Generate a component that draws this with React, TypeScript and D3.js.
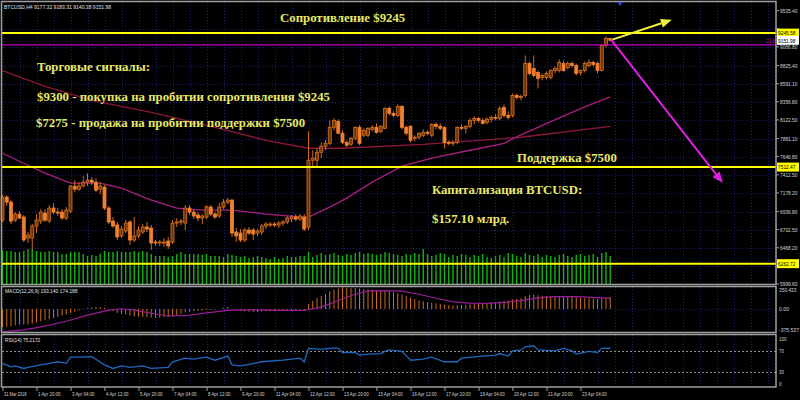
import React from 'react';
import * as d3 from 'd3';

// H4 bars, BTCUSD, first bar 31 Mar 2018 12:00 — [open, high, low, close]
const candles: number[][] = [
  [6827,7150,6801,7124],[7124,7150,7008,7059],[7059,7085,6775,6814],[6827,6930,6801,6904],[6904,6943,6840,6853],
  [6866,6892,6543,6569],[6595,6672,6530,6634],[6595,6775,6440,6750],[6750,6904,6659,6827],[6814,6969,6775,6930],
  [6917,6969,6801,6827],[6814,7021,6788,6982],[6982,7046,6904,6930],[6930,6982,6879,6917],[6930,6969,6827,6853],
  [6853,6995,6827,6956],[6943,7279,6917,7266],[7266,7343,7188,7227],[7227,7317,7201,7266],[7266,7395,7253,7317],
  [7317,7433,7266,7343],[7343,7382,7279,7317],[7317,7369,7188,7214],[7227,7317,7162,7266],[7253,7279,6956,6982],
  [6982,7008,6775,6801],[6814,6866,6724,6750],[6763,6801,6569,6608],[6621,6750,6595,6711],[6685,6827,6659,6788],
  [6801,6827,6505,6569],[6569,6866,6543,6621],[6621,6750,6595,6698],[6672,6775,6646,6737],[6737,6801,6672,6711],
  [6724,6763,6440,6530],[6543,6569,6492,6530],[6530,6569,6492,6543],[6530,6595,6479,6543],[6556,6608,6453,6492],
  [6543,6827,6517,6788],[6788,6853,6737,6801],[6801,6840,6763,6814],[6788,7021,6698,6982],[6982,7021,6892,6930],
  [6930,6956,6840,6879],[6892,6930,6814,6853],[6853,6904,6775,6879],[6866,7021,6840,6995],[6995,7021,6879,6904],
  [6904,6930,6840,6866],[6879,7046,6853,6995],[6995,7098,6969,7059],[7059,7111,7033,7085],[7085,7098,6608,6659],
  [6672,6724,6543,6621],[6659,6711,6543,6569],[6569,6724,6543,6698],[6698,6737,6634,6659],[6698,6724,6569,6646],
  [6659,6711,6621,6685],[6672,6775,6634,6750],[6750,6801,6711,6775],[6763,6801,6737,6775],[6775,6801,6737,6763],
  [6763,6814,6724,6788],[6788,6827,6750,6801],[6801,6879,6775,6853],[6840,6892,6801,6866],[6866,6904,6814,6840],
  [6840,6904,6814,6879],[6866,6904,6685,6711],[6737,7975,6698,7601],[7601,7730,7511,7627],[7601,7756,7524,7704],
  [7704,7833,7627,7782],[7782,7859,7730,7820],[7820,8117,7795,8027],[8027,8143,7988,8117],[8104,8130,7937,7950],
  [7950,7988,7808,7833],[7833,7859,7769,7795],[7808,7898,7782,7885],[7885,8040,7859,8027],[8027,8053,7795,7820],
  [7924,8014,7898,7988],[7924,8027,7898,8014],[8001,8053,7975,8027],[8027,8078,7949,7962],[7975,8053,7950,8040],
  [8014,8285,8001,8272],[8272,8298,8182,8207],[8207,8233,8156,8182],[8182,8324,8156,8298],[8298,8311,8001,8027],
  [8027,8053,7924,7950],[8040,8053,7833,7859],[7885,7924,7846,7898],[7898,7962,7872,7949],[7924,8001,7898,7962],
  [7962,7988,7924,7950],[7924,8078,7898,8065],[8065,8091,8001,8040],[8040,8078,7988,8014],[8027,8040,7756,7833],
  [7833,7859,7795,7820],[7820,7859,7782,7833],[7833,8040,7808,8027],[8027,8065,7988,8014],[8014,8053,7949,8040],
  [8040,8143,8014,8117],[8117,8169,8065,8143],[8143,8156,8091,8117],[8117,8143,8065,8078],[8091,8156,8065,8130],
  [8130,8182,8091,8156],[8156,8195,8117,8143],[8143,8298,8117,8272],[8285,8324,8156,8182],[8182,8233,8130,8156],
  [8182,8465,8156,8440],[8440,8465,8388,8414],[8414,8452,8375,8427],[8440,8956,8414,8852],[8852,8878,8698,8723],
  [8788,8956,8672,8698],[8736,8762,8530,8659],[8672,8723,8633,8698],[8672,8749,8646,8723],[8672,8775,8646,8762],
  [8762,8813,8723,8788],[8762,8904,8736,8865],[8852,8891,8749,8762],[8801,8878,8775,8852],[8852,8878,8801,8827],
  [8827,8852,8698,8723],[8736,8775,8698,8762],[8762,8878,8736,8852],[8827,8904,8801,8865],[8865,8891,8813,8839],
  [8852,8878,8723,8762],[8762,9110,8749,9085],[9085,9200,9059,9175],[9177.32,9183.31,9140.38,9151.98],
];

const volumes = [
  3400,3300,3300,3200,3200,3300,3500,3500,3300,3200,3200,3300,3200,3200,3000,3000,3200,3200,3200,3000,
  2800,2900,2800,3000,3300,3200,3200,3300,3200,3200,3200,3300,3200,3300,3200,3000,2800,2800,2800,2700,
  2800,3000,3200,3000,3000,3000,3000,2900,3000,2800,2800,2800,2700,3000,2900,2800,2700,2800,2600,2700,
  2800,2700,2600,2500,2700,2500,2600,2800,2700,2700,2800,2800,3200,2700,2900,3100,2900,3000,3100,2900,
  2800,3000,2900,3100,3200,3000,3100,3000,2900,3000,3200,3100,3000,2900,2800,3000,2900,3100,3000,3500,
  3000,2800,2900,3100,3000,2700,2900,2800,3000,2900,2700,2900,2800,3000,2700,2600,2800,2900,2700,3100,
  3000,2800,2700,3100,2900,2800,3000,2700,2900,2800,2700,2900,3000,2800,2700,2900,3000,2800,2900,3000,
  2700,3100,3200,2800,
];

// MACD(12,26,9) main (histogram) per bar
const macdMain = [
  -300,-290,-282,-268,-255,-255,-250,-238,-220,-202,-185,-167,-145,-128,-110,-92,-66,-44,-22,-4,
  13,26,31,31,18,-9,-35,-62,-79,-88,-106,-119,-123,-128,-132,-141,-145,-141,-136,-132,
  -114,-97,-79,-57,-44,-35,-31,-26,-18,-13,-9,4,18,31,9,-13,-31,-40,-44,-48,
  -48,-44,-40,-35,-33,-31,-26,-22,-18,-16,-13,-22,80,132,176,211,246,290,315,335,
  350,345,338,342,332,325,322,315,305,295,298,288,275,255,235,210,185,160,140,125,
  112,102,92,84,70,62,57,62,66,70,75,84,88,92,97,106,110,123,132,136,
  154,167,176,211,229,233,224,216,211,209,208,211,207,204,200,189,180,176,174,169,
  158,172,186,193.14,
];

// MACD signal read at bar indices
const signalBars = [0,5,10,15,20,25,28,31,35,39,43,48,53,58,65,71,75,78,82,86,90,94,98,102,106,110,114,118,122,126,130,135,140,143];
const signalVals = [-375,-340,-280,-200,-100,-18,4,-18,-70,-114,-110,-62,-22,-13,-22,-25,30,110,220,295,300,290,240,175,115,95,92,108,135,180,200,200,185,174.188];

// RSI(14) read at bar indices
const rsiBars = [0,2,3,5,6,9,11,13,15,16,18,21,22,24,26,28,30,33,35,39,40,43,45,48,50,53,54,56,58,61,66,70,71,72,75,78,79,80,83,84,86,89,90,91,94,95,96,99,101,104,107,108,113,116,117,119,120,122,123,125,126,130,132,134,135,138,140,141,143];
const rsiVals = [46,39,41,36,38,43,46,49,46,58,58,59,54,43,36,41,38,41,36,38,49,56,54,58,52,60,43,41,44,49,52,56,49,75,73,76,75,67,67,62,64,65,69,72,69,61,52,54,58,49,49,56,60,62,65,60,70,72,78,80,72,70,75,70,64,69,67,75,75.2172];

// Moving averages read at bar indices
const fastMaBars = [0,6,10,16,23,28,35,41,47,54,62,70,72,77,81,87,94,101,110,118,122,131,137,143];
const fastMaVals = [7691,7536,7433,7304,7304,7240,7085,6982,6956,6956,6904,6869,6866,6995,7111,7317,7524,7627,7730,7820,7930,8150,8290,8420];
const slowMaBars = [0,10,21,35,50,62,72,80,99,122,143];
const slowMaVals = [8761,8555,8375,8220,8027,7859,7756,7756,7807,7898,8040];

const priceTicks = [5999.6,6233.9,6468.2,6702.5,6936.8,7178.2,7412.5,7646.8,7881.1,8122.5,8356.8,8591.1,8825.4,9066.8,9300.1,9535.4];
const timeLabels = ['31 Mar 2018','1 Apr 20:00','3 Apr 04:00','4 Apr 12:00','5 Apr 20:00','7 Apr 04:00','8 Apr 12:00','9 Apr 20:00','11 Apr 04:00','12 Apr 12:00','13 Apr 20:00','15 Apr 04:00','16 Apr 12:00','17 Apr 20:00','19 Apr 04:00','20 Apr 12:00','21 Apr 20:00','23 Apr 04:00'];
const timeLabelBars = [0,8,16,24,32,40,48,56,64,72,80,88,96,104,112,120,128,136];

const resistance = 9245.58;
const support = 7512.47;
const lowLevel = 6262.72;
const purpleLevel = 9092;
const lastPrice = 9151.98;

// arrows: [barStart, priceStart, barEnd, priceEnd]
const buyArrow = [143.5, 9161, 157.5, 9419];
const sellArrow = [143.2, 9161, 169.5, 7307];

const YELLOW = '#ffff00';
const TXT = '#e8e868';
const SMALL = 'Liberation Sans, Arial, sans-serif';

function Small(props: { x: number; y: number; t: string; per?: number; fill?: string }) {
  const per = props.per ?? 2.5;
  return (
    <text x={props.x} y={props.y} fontSize={5.6} fontFamily={SMALL} fill={props.fill ?? '#d4d4d4'}
      textLength={props.t.length * per} lengthAdjust="spacingAndGlyphs">{props.t}</text>
  );
}

export default function App() {
  const x = d3.scaleLinear().domain([0, 143]).range([2.5, 610.25]);
  const yP = d3.scaleLinear().domain([5999.6, 9535.4]).range([284, 10.7]);
  const yV = d3.scaleLinear().domain([0, 4000]).range([284, 244]);
  const yM = d3.scaleLinear().domain([-375.537, 350.433]).range([332, 287.5]);
  const yR = d3.scaleLinear().domain([0, 100]).range([387, 335.5]);
  const right = 776;

  const lineP = d3.line<number[]>().x(d => x(d[0])).y(d => yP(d[1]));
  const fastPath = lineP(fastMaBars.map((b, k) => [b, fastMaVals[k]])) || '';
  const slowPath = lineP(slowMaBars.map((b, k) => [b, slowMaVals[k]])) || '';
  const sigPath = d3.line<number[]>().x(d => x(d[0])).y(d => yM(d[1]))(signalBars.map((b, k) => [b, signalVals[k]])) || '';
  const rsiPath = d3.line<number[]>().x(d => x(d[0])).y(d => yR(d[1]))(rsiBars.map((b, k) => [b, rsiVals[k]])) || '';

  const gridBars = d3.range(0, 184, 4);

  const arrow = (a: number[], color: string, key: string) => {
    const x1 = x(a[0]), y1 = yP(a[1]), x2 = x(a[2]), y2 = yP(a[3]);
    const ang = Math.atan2(y2 - y1, x2 - x1);
    const L = 11, Wd = 4.5;
    const bx = x2 - L * Math.cos(ang), by = y2 - L * Math.sin(ang);
    const px = -Math.sin(ang) * Wd, py = Math.cos(ang) * Wd;
    return (
      <g key={key}>
        <line x1={x1} y1={y1} x2={bx} y2={by} stroke={color} strokeWidth={2} />
        <polygon points={`${x2},${y2} ${bx + px},${by + py} ${bx - px},${by - py}`} fill={color} />
      </g>
    );
  };

  const priceBox = (v: number, bg: string, key: string) => (
    <g key={key}>
      <rect x={777} y={yP(v) - 4.5} width={22} height={9} fill={bg} />
      <Small x={778} y={yP(v) + 2.2} t={v.toFixed(2)} fill="#000" />
    </g>
  );

  // tick labels hidden behind the level boxes, as in the terminal
  const boxLevels = [resistance, lastPrice, support, lowLevel];
  const visibleTicks = priceTicks.filter(p => boxLevels.every(b => Math.abs(yP(p) - yP(b)) > 5));

  return (
    <svg width={800} height={400} style={{ position: 'fixed', left: 0, top: 0, background: '#000' }}>
      <rect x={0} y={0} width={800} height={400} fill="#000" />
      {/* grid */}
      <g stroke="#1c1c6a" strokeWidth={1} strokeDasharray="1,2">
        {gridBars.map(b => (
          <line key={'gv' + b} x1={Math.round(x(b)) + 0.5} x2={Math.round(x(b)) + 0.5} y1={2} y2={386} />
        ))}
        {priceTicks.slice(1, -1).map(p => (
          <line key={'gh' + p} x1={2} x2={right} y1={Math.round(yP(p)) + 0.5} y2={Math.round(yP(p)) + 0.5} />
        ))}
        <line x1={2} x2={right} y1={Math.round(yM(0)) + 0.5} y2={Math.round(yM(0)) + 0.5} />
      </g>
      {/* RSI levels */}
      <g stroke="#8a8a8a" strokeWidth={1} strokeDasharray="2,2">
        <line x1={2} x2={right} y1={Math.round(yR(70)) + 0.5} y2={Math.round(yR(70)) + 0.5} />
        <line x1={2} x2={right} y1={Math.round(yR(30)) + 0.5} y2={Math.round(yR(30)) + 0.5} />
      </g>

      {/* volumes */}
      <g stroke="#12b412" strokeWidth={1.4}>
        {volumes.map((v, i) => (
          <line key={'v' + i} x1={x(i)} x2={x(i)} y1={284} y2={yV(v)} />
        ))}
      </g>

      {/* moving averages */}
      <path d={slowPath} fill="none" stroke="#8c1838" strokeWidth={1.3} />
      <path d={fastPath} fill="none" stroke="#a8207e" strokeWidth={1.3} />

      {/* candles */}
      {candles.map((c, i) => {
        const [o, h, l, cl] = c;
        const bull = cl >= o;
        const top = yP(Math.max(o, cl)), bot = yP(Math.min(o, cl));
        return (
          <g key={'c' + i}>
            <line x1={x(i)} x2={x(i)} y1={yP(h)} y2={yP(l)} stroke="#d26a1e" strokeWidth={1} />
            <rect x={x(i) - 1.5} y={top} width={3} height={Math.max(1, bot - top)}
              fill={bull ? '#6e3608' : '#f08030'} stroke={bull ? '#d8701e' : '#f08030'} strokeWidth={0.8} />
          </g>
        );
      })}

      {/* horizontal levels */}
      <line x1={2} x2={right} y1={yP(purpleLevel)} y2={yP(purpleLevel)} stroke="#c000c8" strokeWidth={1.2} />
      <line x1={2} x2={right} y1={yP(resistance)} y2={yP(resistance)} stroke={YELLOW} strokeWidth={2} />
      <line x1={2} x2={right} y1={yP(support)} y2={yP(support)} stroke={YELLOW} strokeWidth={2} />
      <line x1={2} x2={right} y1={yP(lowLevel)} y2={yP(lowLevel)} stroke={YELLOW} strokeWidth={2} />
      <Small x={766} y={yP(purpleLevel) - 2} t="21.6" fill="#c000c8" per={2.3} />

      {/* arrows */}
      {arrow(buyArrow, '#f0f040', 'ab')}
      {arrow(sellArrow, '#e020e0', 'as')}

      {/* MACD */}
      <g stroke="#c8701e" strokeWidth={1}>
        {macdMain.map((v, i) => (
          <line key={'m' + i} x1={x(i)} x2={x(i)} y1={yM(0)} y2={yM(v)} />
        ))}
      </g>
      <path d={sigPath} fill="none" stroke="#9a1c9a" strokeWidth={1.2} />

      {/* RSI */}
      <path d={rsiPath} fill="none" stroke="#2068c0" strokeWidth={1.3} />

      {/* frames */}
      <g fill="none" stroke="#a0a0a0" strokeWidth={1.5}>
        <rect x={1.5} y={1.5} width={right - 1.5} height={283} />
        <rect x={1.5} y={286.5} width={right - 1.5} height={46} />
        <rect x={1.5} y={334.5} width={right - 1.5} height={52.5} />
      </g>
      <polygon points="617,2 623,2 620,6" fill="#3040d0" />

      {/* price axis */}
      {priceTicks.map(p => (
        <line key={'ptk' + p} x1={right} x2={right + 3} y1={yP(p)} y2={yP(p)} stroke="#a0a0a0" />
      ))}
      {visibleTicks.map(p => (
        <Small key={'pt' + p} x={780} y={Math.min(yP(p) + 2.2, 286)} t={p.toFixed(2)} />
      ))}
      <Small x={779} y={292} t="350.433" />
      <Small x={779} y={yM(0) + 2.2} t="0.00" />
      <Small x={779} y={332} t="-375.537" />
      <Small x={779} y={341} t="100" />
      <Small x={779} y={yR(70) + 2.2} t="70" />
      <Small x={779} y={yR(30) + 2.2} t="30" />
      <Small x={779} y={386} t="0" />
      {priceBox(resistance, YELLOW, 'b1')}
      {priceBox(lastPrice, '#ffffff', 'b2')}
      {priceBox(support, YELLOW, 'b3')}
      {priceBox(lowLevel, YELLOW, 'b4')}

      {/* time axis */}
      {timeLabels.map((t, k) => (
        <g key={'tl' + k}>
          <line x1={x(timeLabelBars[k]) + 0.5} x2={x(timeLabelBars[k]) + 0.5} y1={387} y2={391} stroke="#a0a0a0" />
          <Small x={x(timeLabelBars[k]) + 1.5} y={396} t={t} per={2.05} />
        </g>
      ))}

      {/* panel labels */}
      <Small x={4} y={9} t="BTCUSD,H4  9177.32 9183.31 9140.38 9151.98" per={2.55} fill="#e0e0e0" />
      <Small x={5} y={293} t="MACD(12,26,9) 193.140 174.188" per={2.5} fill="#e0e0e0" />
      <Small x={5} y={342} t="RSI(14) 75.2172" per={2.35} fill="#e0e0e0" />

      {/* annotations */}
      <g fontFamily="Liberation Serif, serif" fontWeight="bold" fontSize={12.8} fill={TXT}>
        <text x={280} y={22}>Сопротивление $9245</text>
        <text x={37} y={71}>Торговые сигналы:</text>
        <text x={37} y={101}>$9300 - покупка на пробитии сопротивления $9245</text>
        <text x={36} y={127}>$7275 - продажа на пробитии поддержки $7500</text>
        <text x={517} y={162}>Поддержка $7500</text>
        <text x={432} y={194}>Капитализация BTCUSD:</text>
        <text x={432} y={223}>$157.10 млрд.</text>
      </g>
    </svg>
  );
}
